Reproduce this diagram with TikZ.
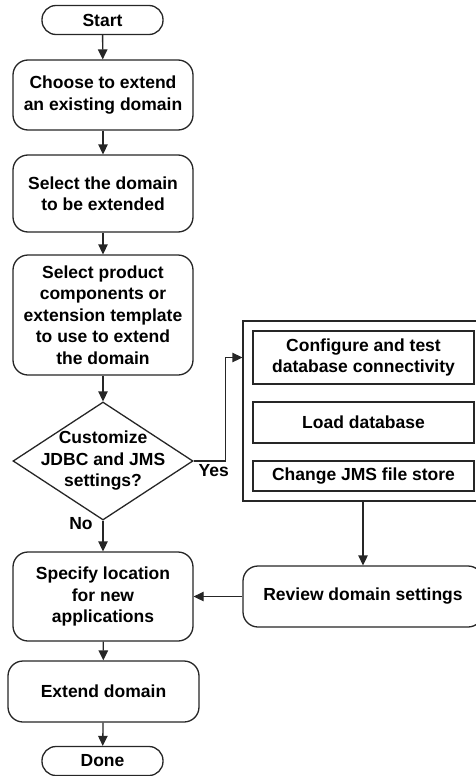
\documentclass[tikz,border=0pt]{standalone}
\usepackage{fontspec}
\setmainfont{Liberation Sans}
\usepackage{tikz}
\usetikzlibrary{positioning,arrows.meta,shapes.geometric,calc}
\tikzset{
  flow/.style={-{Triangle[length=10pt,width=9.5pt]}, line width=1.3pt, draw=black!85},
  every node/.style={anchor=center}
}

\begin{document}
\begin{tikzpicture}[
  x=1pt, y=-1pt,
  font=\fontsize{17.5}{21.5}\selectfont\bfseries,
  stepbox/.style={draw=black!85, rounded corners=15pt, line width=1.3pt, minimum width=180pt, align=center, fill=white, inner sep=0pt},
  endbox/.style={draw=black!85, rounded corners=14pt, line width=1.3pt, minimum width=121pt, minimum height=29pt, inner sep=0pt},
  taskbox/.style={draw=black!85, line width=1.3pt, minimum width=221pt, align=center, inner sep=0pt},
  choice/.style={diamond, draw=black!85, line width=1.3pt, minimum width=180pt, minimum height=118pt, inner sep=0pt, fill=white}
]
\useasboundingbox (0,0) rectangle (475,776);

% main vertical chain
\node[endbox] (start) at (102.5,20) {Start};
\node[stepbox, minimum height=70pt] (choose) at (103,95) {Choose to extend\\an existing domain};
\node[stepbox, minimum height=77pt] (select) at (103,193.5) {Select the domain\\to be extended};
\node[stepbox, minimum height=120pt] (product) at (103,315) {Select product\\components or\\extension template\\to use to extend\\the domain};
\node[choice] (custom) at (103,461) {};
\node[align=center] (customtext) at (custom) {Customize\\JDBC and JMS\\settings?};

% database tasks on the right
\node[draw=black!85, line width=1.3pt, minimum width=240pt, minimum height=180pt] (tasks) at (363,411) {};
\node[taskbox, minimum height=53pt] (config) at (363.5,357.5) {Configure and test\\database connectivity};
\node[taskbox, minimum height=41pt] (load)   at (363.5,422.5) {Load database};
\node[taskbox, minimum height=30pt] (jms)    at (363.5,476)   {Change JMS file store};
\node[stepbox, minimum width=240pt, minimum height=61pt] (review) at (363,596.5) {Review domain settings};

% final steps
\node[stepbox, minimum height=89pt] (location) at (103,596.5) {Specify location\\for new\\applications};
\node[stepbox, minimum width=191pt, minimum height=61pt] (extend) at (103.5,691.5) {Extend domain};
\node[endbox] (done) at (102.5,761) {Done};

% arrows
\draw[flow] (start) -- (choose);
\draw[flow] (choose) -- (select);
\draw[flow] (select) -- (product);
\draw[flow] (product) -- (custom);
\draw[flow] (custom.east) -- ++(32,0) |- (tasks.west |- config.west);
\node (yes) at ($(custom.east)+(20,10)$) {Yes};
\draw[flow] (custom.south) -- (location);
\node (no) at ($(custom.south)+(-22,3)$) {No};
\draw[flow] (tasks.south -| review.north) -- (review);
\draw[flow] (review) -- (location);
\draw[flow] (location) -- (extend);
\draw[flow] (extend) -- (done);

\end{tikzpicture}
\end{document}
